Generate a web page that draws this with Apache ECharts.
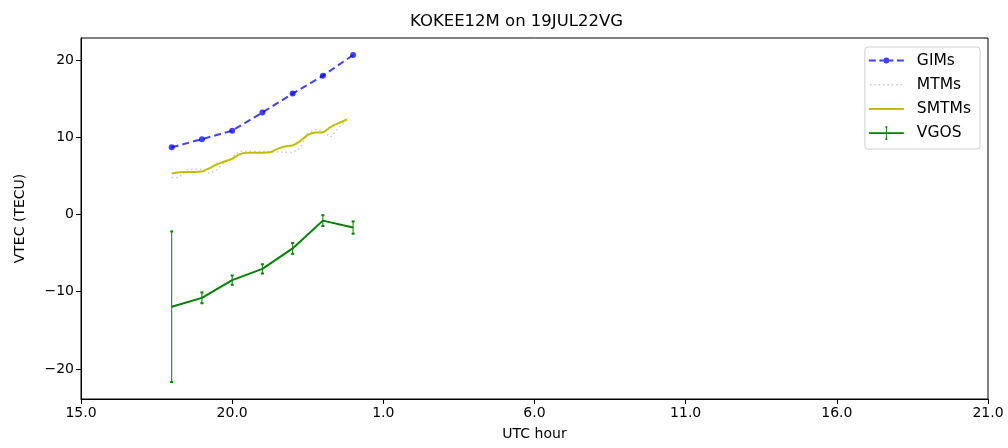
<!DOCTYPE html>
<html>
<head>
<meta charset="utf-8">
<script src="https://cdn.jsdelivr.net/npm/echarts@6/dist/echarts.min.js"></script>
<style>html,body{margin:0;padding:0;background:#fff;}#chart{width:1008px;height:448px;}</style>
</head>
<body>
<div id="chart"></div>
<script>
const hours = [18, 19, 20, 21, 22, 23, 24];
const gims = [8.7, 9.75, 10.85, 13.2, 15.65, 17.95, 20.65];
const vgos = [-11.95, -10.8, -8.5, -7.05, -4.4, -0.8, -1.7];
const vgosErr = [9.75, 0.7, 0.6, 0.6, 0.7, 0.7, 0.8];
const mtmHours = [18.0, 18.25, 18.5, 18.75, 19.0, 19.25, 19.5, 19.75, 20.0, 20.25, 20.5, 20.75,
                  21.0, 21.25, 21.5, 21.75, 22.0, 22.25, 22.5, 22.75, 23.0, 23.25, 23.5, 23.8];
const mtms = [4.8, 4.8, 5.8, 5.85, 5.85, 5.3, 5.8, 6.8, 7.4, 8.2, 8.2, 8.15,
              8.15, 8.15, 8.1, 8.05, 8.0, 8.6, 10.5, 11.0, 10.8, 10.0, 11.1, 12.4];
const smtms = [5.3, 5.45, 5.5, 5.5, 5.55, 6.0, 6.5, 6.85, 7.2, 7.8, 8.0, 8.0,
               8.0, 8.05, 8.5, 8.8, 8.95, 9.5, 10.3, 10.6, 10.65, 11.3, 11.8, 12.3];
const xTicks = [15, 20, 25, 30, 35, 40, 45];
const xTickLabels = ['15.0', '20.0', '1.0', '6.0', '11.0', '16.0', '21.0'];
const yTicks = [-20, -10, 0, 10, 20];

const zip = (a, b) => a.map((v, i) => [v, b[i]]);
const font = 'DejaVu Sans';

// legend icon paths in a 35x14 box (corner specks fix the bounding box)
const corners = 'M0,0 L0.01,0 L0.01,0.01 Z M35,14 L34.99,14 L34.99,13.99 Z ';
const iconGims = 'path://' + corners +
  'M0,6.1 L7,6.1 L7,7.9 L0,7.9 Z M10.5,6.1 L14.5,6.1 L14.5,7.9 L10.5,7.9 Z ' +
  'M14.5,7 A3,3 0 1,0 20.5,7 A3,3 0 1,0 14.5,7 Z ' +
  'M20.5,6.1 L24.5,6.1 L24.5,7.9 L20.5,7.9 Z M28,6.1 L35,6.1 L35,7.9 L28,7.9 Z';
let dots = '';
for (let k = 0; k < 8; k++) { const x = 1 + k * 4.4; dots += `M${x},6.3 L${x + 1.5},6.3 L${x + 1.5},7.7 L${x},7.7 Z `; }
const iconMtms = 'path://' + corners + dots;
const iconSmtms = 'path://' + corners + 'M0,6 L35,6 L35,8 L0,8 Z';
const iconVgos = 'path://' + corners + 'M0,6.1 L35,6.1 L35,7.9 L0,7.9 Z M17,1 L18,1 L18,6.1 L17,6.1 Z M17,7.9 L18,7.9 L18,13 L17,13 Z ' +
  'M16.6,0.2 L18.4,0.2 L18.4,1.8 L16.6,1.8 Z M16.6,12.2 L18.4,12.2 L18.4,13.8 L16.6,13.8 Z';

const chart = echarts.init(document.getElementById('chart'), null, {renderer: 'canvas'});
chart.setOption({
  animation: false,
  backgroundColor: '#fff',
  textStyle: {fontFamily: font},
  title: {
    text: 'KOKEE12M on 19JUL22VG', left: 405, top: 8,
    textStyle: {fontFamily: font, fontSize: 16.5, fontWeight: 'normal', color: '#000'}
  },
  grid: {left: 81, right: 20, top: 38, bottom: 49, show: true, borderColor: '#000', borderWidth: 1, backgroundColor: 'transparent'},
  legend: {
    orient: 'vertical', right: 28, top: 47, padding: [5.5, 9, 8, 4], itemGap: 8.2,
    itemWidth: 35, itemHeight: 14,
    backgroundColor: '#fff', borderColor: '#d0d0d0', borderWidth: 1, borderRadius: 3,
    textStyle: {fontFamily: font, fontSize: 15.5, lineHeight: 16, color: '#000', padding: [0, 0, 0, 8]},
    data: [
      {name: 'GIMs', icon: iconGims, itemStyle: {color: 'rgba(0,0,255,0.75)'}},
      {name: 'MTMs', icon: iconMtms, itemStyle: {color: '#c8c8c8'}},
      {name: 'SMTMs', icon: iconSmtms, itemStyle: {color: '#bfbf00'}},
      {name: 'VGOS', icon: iconVgos, itemStyle: {color: '#008000'}}
    ]
  },
  xAxis: {
    type: 'value', min: 15, max: 45, interval: 5,
    name: 'UTC hour', nameLocation: 'middle', nameGap: 28,
    nameTextStyle: {fontFamily: font, fontSize: 14, color: '#000'},
    axisLine: {show: true, onZero: false, lineStyle: {color: '#000', width: 1}},
    axisTick: {show: true, inside: false, length: 5, lineStyle: {color: '#000'}},
    axisLabel: {fontFamily: font, fontSize: 14, color: '#000', margin: 7,
      formatter: v => { const i = xTicks.indexOf(v); return i >= 0 ? xTickLabels[i] : ''; }},
    splitLine: {show: false}
  },
  yAxis: {
    type: 'value', min: -23.9, max: 22.85,
    name: 'VTEC (TECU)', nameLocation: 'middle', nameGap: 54, nameRotate: 90,
    nameTextStyle: {fontFamily: font, fontSize: 14, color: '#000'},
    axisLine: {show: true, onZero: false, lineStyle: {color: '#000', width: 1}},
    axisTick: {show: true, inside: false, length: 5, customValues: yTicks, lineStyle: {color: '#000'}},
    axisLabel: {fontFamily: font, fontSize: 14, color: '#000', margin: 7, customValues: yTicks,
      formatter: v => (v < 0 ? '\u2212' + Math.abs(v) : String(v))},
    splitLine: {show: false}
  },
  series: [
    {
      name: 'GIMs', type: 'line', data: zip(hours, gims),
      symbol: 'circle', symbolSize: 6,
      lineStyle: {color: 'rgba(0,0,255,0.75)', width: 2, type: [7, 4]},
      itemStyle: {color: 'rgba(0,0,255,0.75)'}, z: 5
    },
    {
      name: 'MTMs', type: 'line', data: zip(mtmHours, mtms),
      showSymbol: false, symbol: 'none',
      lineStyle: {color: '#c8c8c8', width: 1.5, type: [1.5, 3]},
      itemStyle: {color: '#c8c8c8'}, z: 3
    },
    {
      name: 'SMTMs', type: 'line', data: zip(mtmHours, smtms),
      showSymbol: false, symbol: 'none', smooth: 0.3,
      lineStyle: {color: '#bfbf00', width: 2},
      itemStyle: {color: '#bfbf00'}, z: 4
    },
    {
      name: 'VGOS', type: 'line', data: zip(hours, vgos),
      showSymbol: false, symbol: 'none',
      lineStyle: {color: '#008000', width: 2},
      itemStyle: {color: '#008000'}, z: 6
    },
    {
      name: 'VGOS', type: 'custom',
      data: hours.map((h, i) => [h, vgos[i] - vgosErr[i], vgos[i] + vgosErr[i]]),
      renderItem: (params, api) => {
        const lo = api.coord([api.value(0), api.value(1)]);
        const hi = api.coord([api.value(0), api.value(2)]);
        const c = 1.5;
        const st = {stroke: '#008000', lineWidth: 1};
        const cap = {stroke: '#008000', lineWidth: 2};
        return {type: 'group', children: [
          {type: 'line', shape: {x1: lo[0], y1: lo[1], x2: hi[0], y2: hi[1]}, style: st},
          {type: 'line', shape: {x1: lo[0] - c, y1: lo[1], x2: lo[0] + c, y2: lo[1]}, style: cap},
          {type: 'line', shape: {x1: hi[0] - c, y1: hi[1], x2: hi[0] + c, y2: hi[1]}, style: cap}
        ]};
      },
      z: 6
    }
  ]
});
</script>
</body>
</html>
